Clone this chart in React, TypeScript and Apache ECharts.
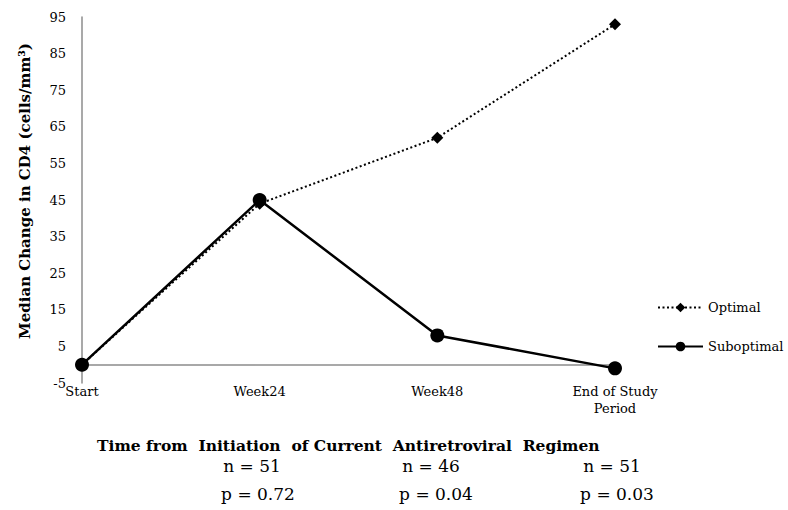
import React, { useEffect, useRef } from "react";
import * as echarts from "echarts";

const categories = ["Start", "Week24", "Week48", "End of Study\nPeriod"];
const optimal = [0, 44, 62, 93];
const suboptimal = [0, 45, 8, -1];
const nLabels = ["n = 51", "n = 46", "n = 51"];
const pLabels = ["p = 0.72", "p = 0.04", "p = 0.03"];
const yMin = -5;
const yMax = 95;
const yInterval = 10;

const FONT = "DejaVu Serif";

export default function App() {
  const ref = useRef<HTMLDivElement>(null);
  useEffect(() => {
    document.body.style.margin = "0";
    const chart = echarts.init(ref.current!, null, { renderer: "svg" });
    const nX = [252, 431, 612];
    const pX = [258, 436, 617];
    chart.setOption({
      animation: false,
      backgroundColor: "#ffffff",
      textStyle: { fontFamily: FONT },
      grid: { left: 82, right: 173, top: 17, bottom: 127 },
      legend: {
        orient: "vertical",
        left: 652,
        top: 296,
        itemGap: 26,
        itemWidth: 45,
        itemHeight: 12,
        textStyle: { fontFamily: FONT, fontSize: 13, color: "#000" },
        data: ["Optimal", "Suboptimal"],
      },
      xAxis: {
        type: "category",
        data: categories,
        boundaryGap: false,
        axisLine: { onZero: true, lineStyle: { color: "#8c8c8c", width: 1.5 } },
        axisTick: { show: false },
        axisLabel: {
          fontFamily: FONT,
          fontSize: 13,
          color: "#000",
          margin: 0,
          lineHeight: 17,
        },
      },
      yAxis: {
        type: "value",
        min: yMin,
        max: yMax,
        interval: yInterval,
        splitLine: { show: false },
        axisLine: { show: true, onZero: false, lineStyle: { color: "#8c8c8c", width: 1.5 } },
        axisTick: { show: false },
        axisLabel: { fontFamily: FONT, fontSize: 13, color: "#000", margin: 16 },
      },
      graphic: [
        {
          type: "text",
          x: 25,
          y: 191,
          rotation: Math.PI / 2,
          style: {
            text: "Median Change in CD4 (cells/mm³)",
            font: `bold 15px ${FONT}`,
            fill: "#000",
            align: "center",
            verticalAlign: "middle",
          },
        },
        {
          type: "text",
          x: 97,
          y: 445,
          style: {
            text: "Time from  Initiation  of Current  Antiretroviral  Regimen",
            font: `bold 15.5px ${FONT}`,
            fill: "#000",
            align: "left",
            verticalAlign: "middle",
          },
        },
        ...nLabels.map((t, i) => ({
          type: "text",
          x: nX[i],
          y: 466,
          style: { text: t, font: `17px ${FONT}`, fill: "#000", align: "center", verticalAlign: "middle" },
        })),
        ...pLabels.map((t, i) => ({
          type: "text",
          x: pX[i],
          y: 494,
          style: { text: t, font: `17px ${FONT}`, fill: "#000", align: "center", verticalAlign: "middle" },
        })),
      ],
      series: [
        {
          name: "Optimal",
          type: "line",
          data: optimal,
          symbol: "diamond",
          symbolSize: 12,
          lineStyle: { color: "#000", width: 2, type: [2, 2.5] },
          itemStyle: { color: "#000" },
          z: 2,
        },
        {
          name: "Suboptimal",
          type: "line",
          data: suboptimal,
          symbol: "circle",
          symbolSize: 14,
          lineStyle: { color: "#000", width: 2.5 },
          itemStyle: { color: "#000" },
          z: 3,
        },
      ],
    });
    return () => chart.dispose();
  }, []);
  return <div ref={ref} style={{ width: 788, height: 510 }} />;
}
